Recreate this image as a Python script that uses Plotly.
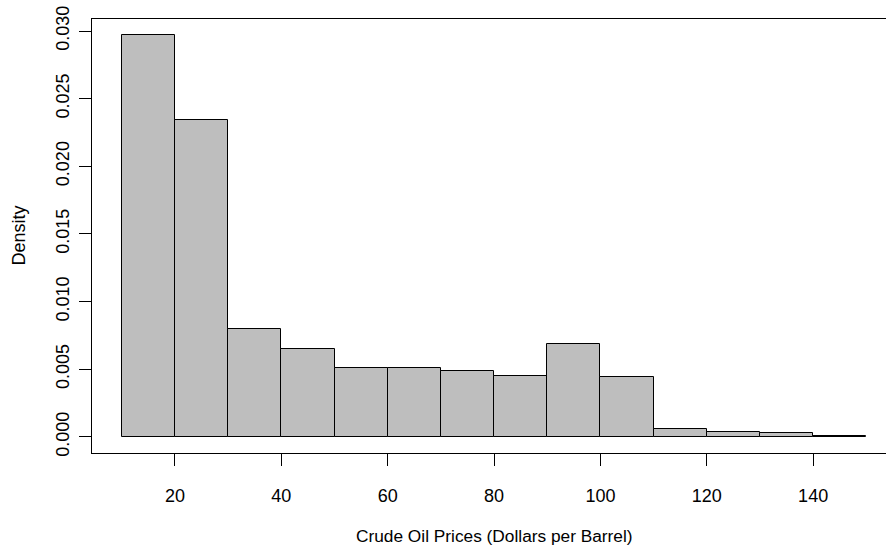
import plotly.graph_objects as go

bin_edges = [10, 20, 30, 40, 50, 60, 70, 80, 90, 100, 110, 120, 130, 140, 150]
densities = [0.0297, 0.0234, 0.0080, 0.0065, 0.0051, 0.0051, 0.0049, 0.0045,
             0.0069, 0.0044, 0.00062, 0.0004, 0.00032, 0.0001]
x_ticks = [20, 40, 60, 80, 100, 120, 140]
y_ticks = [0.000, 0.005, 0.010, 0.015, 0.020, 0.025, 0.030]
x_title = "Crude Oil Prices (Dollars per Barrel)"
y_title = "Density"

mids = [(a + b) / 2 for a, b in zip(bin_edges[:-1], bin_edges[1:])]
widths = [b - a for a, b in zip(bin_edges[:-1], bin_edges[1:])]

font = dict(family="Liberation Sans, Arial, sans-serif", size=18, color="black")
title_font = dict(family="Liberation Sans, Arial, sans-serif", size=17.3, color="black")

fig = go.Figure(go.Bar(
    x=mids, y=densities, width=widths,
    marker=dict(color="#BEBEBE", line=dict(color="black", width=1)),
    hoverinfo="skip",
))

ymax = max(densities)
pad = ymax * 0.04
xpad = (bin_edges[-1] - bin_edges[0]) * 0.04
xlo = bin_edges[0] - xpad

W, H = 886, 550
ml, mt, mr, mb = 92, 19, 0, 97
pw, ph = W - ml - mr, H - mt - mb

fig.update_layout(
    width=W, height=H,
    margin=dict(l=ml, r=mr, t=mt, b=mb, autoexpand=False),
    paper_bgcolor="white", plot_bgcolor="white",
    font=font, showlegend=False, bargap=0,
    xaxis=dict(
        range=[xlo, 153.7], tickvals=x_ticks, ticktext=[str(v) for v in x_ticks],
        ticks="outside", ticklen=12, tickcolor="black", tickwidth=1,
        showline=True, linecolor="black", linewidth=1, mirror=True,
        showgrid=False, zeroline=False, automargin=False,
        ticklabelstandoff=14, ticklabeloverflow="allow",
    ),
    yaxis=dict(
        range=[-pad, ymax + pad], tickvals=y_ticks, ticktext=[f"{v:.3f}" for v in y_ticks],
        tickangle=-90,
        ticks="outside", ticklen=12, tickcolor="black", tickwidth=1,
        showline=True, linecolor="black", linewidth=1,
        showgrid=False, zeroline=False, automargin=False,
        ticklabelstandoff=3, ticklabeloverflow="allow",
    ),
    annotations=[
        dict(text=x_title, xref="x", yref="paper",
             x=(bin_edges[0] + bin_edges[-1]) / 2, y=-(536 - 453) / ph,
             xanchor="center", yanchor="middle", showarrow=False, font=title_font),
        dict(text=y_title, xref="paper", yref="paper",
             x=-(92 - 18.5) / pw, y=(453 - 236) / ph, textangle=-90,
             xanchor="center", yanchor="middle", showarrow=False, font=font),
    ],
)

fig.write_html(
    "out.html",
    config={"displayModeBar": False},
    post_script="document.body.style.margin='0';document.body.style.overflow='hidden';",
)
